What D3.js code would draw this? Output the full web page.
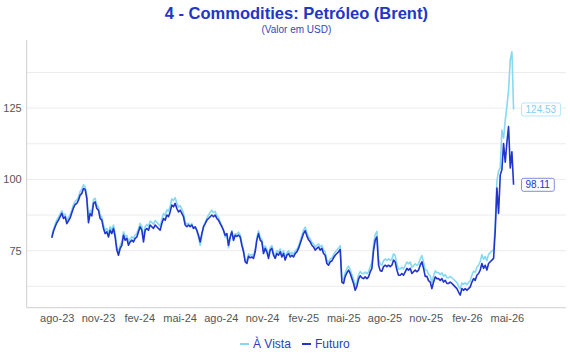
<!DOCTYPE html>
<html><head><meta charset="utf-8">
<script src="https://cdn.jsdelivr.net/npm/d3@7"></script>
<style>body{margin:0;background:#fff;} svg{display:block;font-family:"Liberation Sans",Arial,Helvetica,sans-serif;}</style>
</head><body><svg id="chart" width="570" height="360"></svg>
<script>
// ---- data ----
const startDate = "2023-07-21";
const stepDays = 3.7186; // observation spacing (days)
const futuro = [
79.5, 81.8, 83.4, 84.8, 85.7, 86.9, 88.1, 86.3, 86.9, 84.5,
85.5, 86.5, 88.3, 90.0, 91.2, 91.6, 92.7, 94.5, 95.1, 96.8,
96.5, 93.3, 84.8, 88.0, 87.2, 91.6, 92.1, 89.8, 89.2, 86.3,
85.7, 82.8, 81.0, 81.6, 79.8, 82.2, 81.0, 82.8, 79.8, 75.2,
73.4, 75.8, 76.9, 80.4, 78.7, 79.3, 76.9, 78.1, 78.7, 78.1,
79.3, 79.8, 81.6, 83.4, 82.2, 78.1, 82.2, 82.8, 82.2, 84.0,
83.4, 82.8, 84.0, 83.4, 82.8, 82.2, 84.5, 86.3, 85.7, 87.5,
86.9, 88.6, 91.0, 90.4, 91.6, 89.8, 88.6, 89.2, 88.1, 86.9,
84.0, 83.4, 84.0, 83.4, 84.0, 82.8, 83.4, 82.2, 80.4, 78.1,
81.0, 83.4, 84.5, 85.7, 86.3, 86.9, 87.5, 86.9, 87.5, 86.3,
85.7, 84.5, 83.4, 82.2, 80.4, 81.0, 76.9, 79.8, 81.6, 78.7,
80.4, 80.0, 80.5, 79.8, 76.9, 74.6, 71.1, 70.5, 73.0, 72.5,
72.8, 72.3, 74.6, 78.7, 81.0, 78.7, 78.1, 74.0, 75.8, 74.6,
72.3, 75.2, 75.8, 73.4, 72.3, 74.0, 73.4, 74.6, 72.8, 74.0,
71.7, 73.4, 74.0, 72.8, 73.4, 72.8, 74.0, 74.6, 75.8, 77.5,
79.3, 81.0, 82.0, 80.2, 78.8, 78.1, 76.9, 76.3, 75.2, 75.8,
76.3, 75.2, 75.8, 74.0, 73.4, 70.5, 69.9, 71.1, 71.4, 72.5,
73.4, 74.0, 74.6, 75.4, 64.0, 63.5, 66.0, 67.2, 68.2, 67.0,
65.2, 63.5, 61.1, 62.5, 65.0, 66.2, 65.5, 65.2, 65.8, 65.2,
65.8, 67.6, 68.8, 75.0, 78.7, 79.8, 70.0, 68.0, 67.8, 69.4,
69.9, 69.4, 69.9, 69.4, 69.9, 71.7, 71.0, 68.2, 66.4, 66.4,
67.0, 66.4, 67.6, 68.8, 68.2, 68.8, 67.0, 67.6, 68.2, 67.6,
68.2, 69.9, 71.1, 68.8, 66.0, 66.0, 64.5, 64.0, 61.7, 64.0,
65.8, 65.2, 65.2, 64.6, 65.2, 64.0, 64.6, 63.5, 63.5, 64.0,
63.5, 62.9, 62.3, 61.7, 60.5, 59.4, 61.7, 61.1, 61.7, 61.1,
61.7, 62.3, 64.0, 65.2, 64.6, 66.4, 67.0, 68.2, 70.5, 68.8,
69.9, 68.2, 70.5, 71.1, 71.7, 72.3, 82.0, 97.0, 88.1, 101.5,
103.5, 112.6, 106.0, 113.0, 118.5, 104.0, 109.7, 98.11
];
const aVista = [
80.0, 82.5, 84.3, 85.8, 86.8, 87.9, 89.0, 87.3, 87.8, 85.5,
86.6, 87.6, 89.4, 91.2, 92.4, 92.8, 93.9, 95.8, 96.6, 98.1,
97.4, 94.4, 86.0, 89.2, 88.5, 92.9, 93.4, 91.0, 90.3, 87.4,
86.8, 84.0, 82.2, 82.8, 81.0, 83.4, 82.3, 84.0, 81.0, 76.3,
74.3, 76.9, 78.0, 81.6, 79.9, 80.4, 78.2, 79.2, 79.9, 79.3,
80.5, 81.0, 82.8, 84.6, 83.5, 79.3, 83.5, 84.2, 83.6, 85.4,
84.9, 84.3, 85.6, 85.0, 84.3, 83.6, 86.0, 88.0, 87.4, 89.3,
88.8, 90.6, 93.2, 92.6, 93.6, 91.8, 90.3, 90.8, 89.6, 88.2,
85.0, 84.3, 84.6, 83.8, 84.5, 82.9, 83.2, 81.8, 79.6, 76.9,
80.2, 83.2, 84.9, 86.4, 87.5, 88.4, 89.2, 88.3, 88.8, 87.4,
86.6, 85.1, 83.8, 82.0, 79.8, 80.6, 76.0, 79.6, 82.1, 78.5,
80.9, 80.8, 81.5, 80.6, 77.6, 75.3, 71.9, 71.4, 73.9, 73.3,
73.7, 73.2, 75.5, 79.6, 82.0, 79.6, 79.0, 74.9, 76.7, 75.5,
73.2, 76.1, 76.8, 74.4, 73.3, 75.0, 74.4, 75.6, 73.8, 75.0,
72.7, 74.3, 75.0, 73.8, 74.4, 73.7, 74.9, 75.5, 76.7, 78.5,
80.4, 82.2, 83.3, 81.4, 79.9, 79.1, 77.9, 77.3, 76.3, 76.9,
77.4, 76.4, 76.9, 75.2, 74.5, 71.6, 71.0, 72.1, 72.4, 73.5,
74.5, 75.2, 75.9, 76.7, 65.3, 64.8, 67.3, 68.6, 69.6, 68.4,
66.6, 65.0, 62.6, 64.0, 66.5, 67.7, 67.1, 66.9, 67.5, 66.9,
67.6, 69.4, 70.8, 77.0, 80.6, 81.8, 72.2, 70.2, 70.0, 71.5,
72.1, 71.6, 72.1, 71.6, 72.0, 73.9, 73.2, 70.4, 68.5, 68.6,
69.2, 68.6, 69.8, 71.0, 70.4, 71.0, 69.2, 69.8, 70.4, 69.8,
70.4, 72.1, 73.3, 71.0, 68.2, 68.2, 66.7, 66.2, 63.9, 66.2,
67.9, 67.3, 67.3, 66.6, 67.2, 66.0, 66.6, 65.5, 65.5, 66.0,
65.5, 64.9, 64.4, 63.8, 62.6, 61.6, 63.7, 63.2, 63.7, 63.1,
63.8, 64.5, 66.4, 67.8, 67.4, 69.2, 69.9, 71.2, 73.6, 72.0,
73.0, 71.5, 73.7, 74.3, 74.9, 75.4, 84.5, 99.5, 103.0, 104.0,
117.3, 114.5, 120.8, 125.5, 131.4, 141.9, 144.8, 124.53
];
const seriesNames = ["À Vista", "Futuro"];
const seriesColors = ["#86d9f2", "#2134cc"];
const yTickValues = [75, 100, 125];
const yGridValues = [62.5, 75, 87.5, 100, 112.5, 125, 137.5];
const xTickDates = ["2023-08-01","2023-11-01","2024-02-01","2024-05-01","2024-08-01","2024-11-01",
                    "2025-02-01","2025-05-01","2025-08-01","2025-11-01","2026-02-01","2026-05-01"];
const xTickLabels = ["ago-23","nov-23","fev-24","mai-24","ago-24","nov-24",
                     "fev-25","mai-25","ago-25","nov-25","fev-26","mai-26"];
const xDomain = ["2023-05-26", "2026-09-10"];
const yDomain = [55, 148.9];
const title = "4 - Commodities: Petróleo (Brent)";
const subtitle = "(Valor em USD)";

// ---- chart ----
const parse = d3.timeParse("%Y-%m-%d");
const t0 = parse(startDate);
const dates = futuro.map((_, i) => new Date(t0.getTime() + i * stepDays * 864e5));
const svg = d3.select("#chart");
const W = 570, H = 360;
const m = {left: 26.7, right: 4, top: 40, bottom: 52.3};
const x = d3.scaleTime().domain(xDomain.map(parse)).range([m.left, W - m.right]);
const y = d3.scaleLinear().domain(yDomain).range([H - m.bottom, m.top]);

// grid
svg.append("g").selectAll("line").data(yGridValues).join("line")
  .attr("x1", m.left).attr("x2", W - m.right)
  .attr("y1", d => y(d)).attr("y2", d => y(d))
  .attr("stroke", "#ececec").attr("stroke-width", 1);

// axes lines
svg.append("line").attr("x1", m.left).attr("x2", m.left).attr("y1", m.top).attr("y2", H - m.bottom)
  .attr("stroke", "#cfcfcf");
svg.append("line").attr("x1", m.left).attr("x2", W - m.right).attr("y1", H - m.bottom).attr("y2", H - m.bottom)
  .attr("stroke", "#cfcfcf");

// y axis labels
const yAxis = d3.axisLeft(y).tickValues(yTickValues).tickSize(0).tickPadding(5);
const gy = svg.append("g").attr("transform", `translate(${m.left},0)`).call(yAxis);
gy.select(".domain").remove();
gy.selectAll("text").attr("fill", "#555").style("font-size", "11px");

// x axis labels
const xAxis = d3.axisBottom(x).tickValues(xTickDates.map(parse))
  .tickFormat((d, i) => xTickLabels[i]).tickSize(0).tickPadding(7);
const gx = svg.append("g").attr("transform", `translate(0,${H - m.bottom})`).call(xAxis);
gx.select(".domain").remove();
gx.selectAll("text").attr("fill", "#555").style("font-size", "11px");

// lines
const line = d3.line().x((d, i) => x(dates[i])).y(d => y(d));
[aVista, futuro].forEach((s, k) => {
  svg.append("path").datum(s).attr("d", line).attr("fill", "none")
    .attr("stroke", seriesColors[k]).attr("stroke-width", 1.6).attr("stroke-linejoin", "round");
});

// end labels
[aVista, futuro].forEach((s, k) => {
  const v = s[s.length - 1];
  const lx = x(dates[dates.length - 1]) + 8, ly = y(v);
  const g = svg.append("g");
  const t = g.append("text").attr("x", lx + 4).attr("y", ly).attr("dy", "0.35em")
    .attr("fill", k === 0 ? "#7fd0ee" : "#2134cc").style("font-size", "10px").text(v.toFixed(2));
  const bb = t.node().getBBox();
  g.insert("rect", "text").attr("x", bb.x - 4).attr("y", bb.y - 1).attr("width", bb.width + 8)
    .attr("height", bb.height + 2).attr("rx", 2).attr("fill", "#fff")
    .attr("stroke", k === 0 ? "#9fe0f5" : "#5c6fe0").attr("stroke-width", 0.8);
});

// title
const cx = (m.left + W - m.right) / 2;
svg.append("text").attr("x", cx).attr("y", 19).attr("text-anchor", "middle")
  .attr("fill", "#2236c8").style("font-size", "16.5px").style("font-weight", "bold").text(title);
svg.append("text").attr("x", cx).attr("y", 33).attr("text-anchor", "middle")
  .attr("fill", "#3447b8").style("font-size", "10px").text(subtitle);

// legend
const lg = svg.append("g").attr("transform", "translate(0,344)");
const items = [{x: 240}, {x: 302}];
seriesNames.forEach((n, k) => {
  lg.append("line").attr("x1", items[k].x).attr("x2", items[k].x + 9).attr("y1", 0).attr("y2", 0)
    .attr("stroke", seriesColors[k]).attr("stroke-width", 2);
  lg.append("text").attr("x", items[k].x + 13).attr("y", 0).attr("dy", "0.35em")
    .attr("fill", "#2a3cc4").style("font-size", "12px").text(n);
});
</script></body></html>
